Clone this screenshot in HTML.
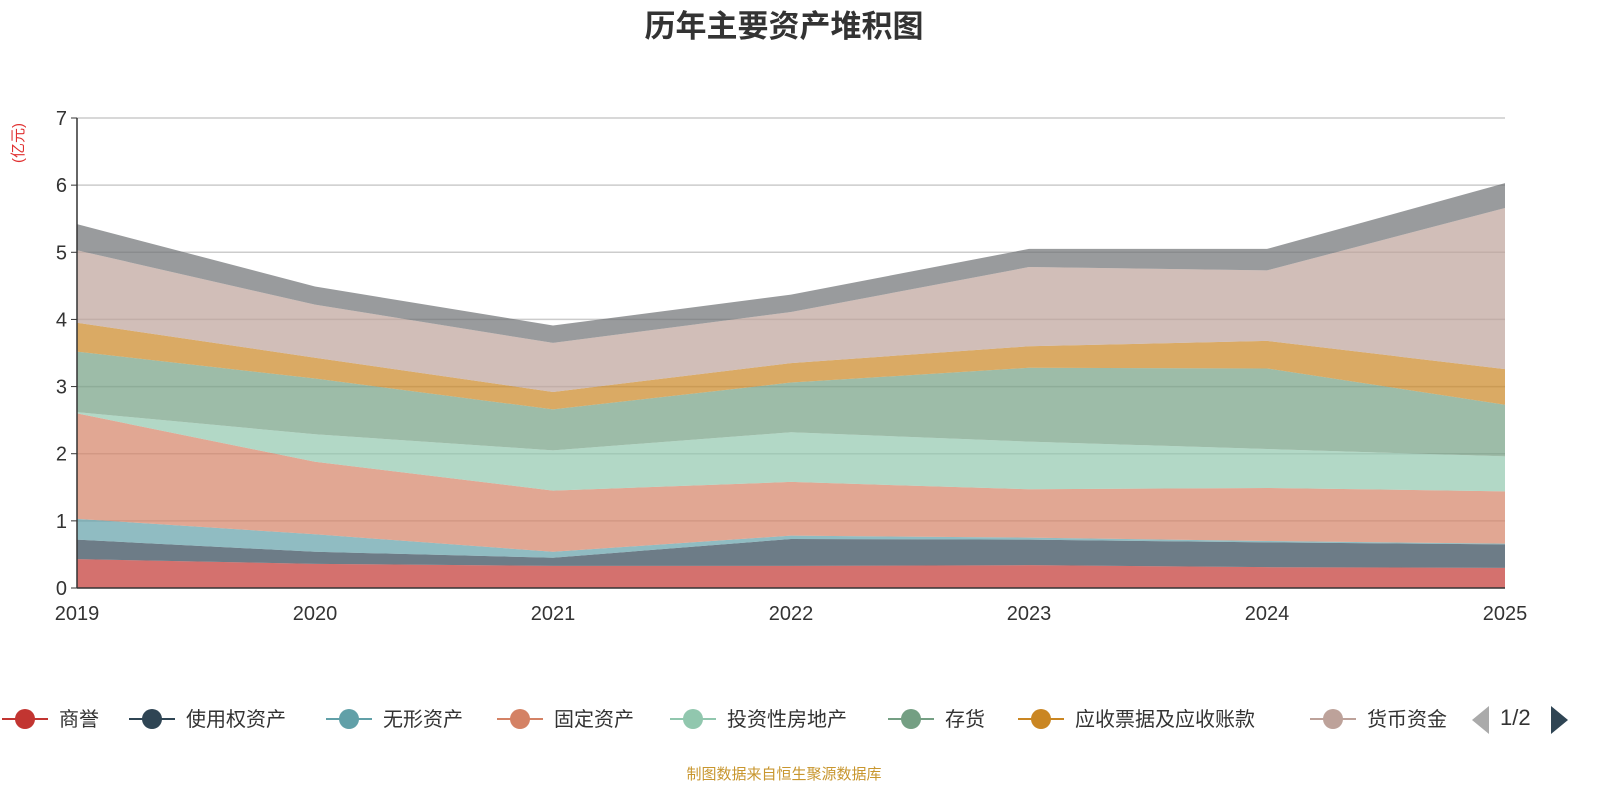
<!DOCTYPE html>
<html><head><meta charset="utf-8"><style>
body{margin:0;width:1600px;height:800px;background:#fff;overflow:hidden;font-family:"Liberation Sans","Noto Sans CJK SC",sans-serif}
</style></head><body>
<svg id="c" width="1600" height="800" xmlns="http://www.w3.org/2000/svg" style="font-family:'Liberation Sans','Noto Sans CJK SC',sans-serif">
<text x="784" y="37" text-anchor="middle" font-size="31" font-weight="bold" fill="#333">历年主要资产堆积图</text>
<text transform="translate(23,143) rotate(-90)" text-anchor="middle" font-size="15" fill="#e03030">(亿元)</text>
<g id="grid"></g><g id="areas"></g><g id="axes"></g><g id="legend"></g>
<text x="784" y="779" text-anchor="middle" font-size="15" fill="#c8962e">制图数据来自恒生聚源数据库</text>
</svg>
<script>
const years=['2019','2020','2021','2022','2023','2024','2025'];
const yTicks=[0,1,2,3,4,5,6,7];
const seriesNames=['商誉','使用权资产','无形资产','固定资产','投资性房地产','存货','应收票据及应收账款','货币资金','其他'];
const goodwill=[0.43,0.36,0.33,0.33,0.34,0.31,0.30];
const rightOfUse=[0.29,0.18,0.12,0.40,0.38,0.37,0.35];
const intangible=[0.31,0.26,0.09,0.05,0.03,0.02,0.01];
const fixedAssets=[1.57,1.08,0.91,0.80,0.72,0.79,0.78];
const investProperty=[0.02,0.41,0.60,0.74,0.71,0.58,0.52];
const inventory=[0.90,0.83,0.61,0.74,1.10,1.20,0.77];
const receivables=[0.43,0.31,0.26,0.29,0.32,0.41,0.53];
const cash=[1.08,0.79,0.73,0.76,1.18,1.05,2.40];
const others=[0.39,0.27,0.26,0.26,0.27,0.32,0.37];
const seriesData=[goodwill,rightOfUse,intangible,fixedAssets,investProperty,inventory,receivables,cash,others];
const colors=['#c23531','#2f4554','#61a0a8','#d48265','#91c7ae','#749f83','#ca8622','#bda29a','#6e7074'];
const NS='http://www.w3.org/2000/svg';
const x0=77,x1=1505,y0=588,yTop=118,ymax=7;
const X=i=>x0+(x1-x0)*i/(years.length-1);
const Y=v=>y0-(y0-yTop)*v/ymax;
function mk(t,a,p){const e=document.createElementNS(NS,t);for(const k in a)e.setAttribute(k,a[k]);p.appendChild(e);return e;}
const grid=document.getElementById('grid'),axes=document.getElementById('axes'),areas=document.getElementById('areas'),legend=document.getElementById('legend');
yTicks.forEach(v=>{
 if(v>0){const l=mk('line',{x1:x0,x2:x1,y1:Y(v),y2:Y(v),stroke:'#ccc','stroke-width':1.5},grid);
 
 }
 const t=mk('text',{x:x0-10,y:Y(v)+7,'text-anchor':'end','font-size':20,fill:'#333'},axes);t.textContent=v;
 
 
 const tk=mk('line',{x1:x0-6,x2:x0,y1:Y(v),y2:Y(v),stroke:'#333'},axes);
 
 
});
let base=years.map(()=>0);
seriesData.forEach((s,k)=>{
 const top=base.map((b,i)=>b+s[i]);
 let d='M'+top.map((v,i)=>X(i)+','+Y(v)).join('L');
 for(let i=years.length-1;i>=0;i--)d+='L'+X(i)+','+Y(base[i]);
 const p=mk('path',{d:d+'Z',fill:colors[k],'fill-opacity':0.7},areas);
 
 
 base=top;
});
const ya=mk('line',{x1:x0,x2:x0,y1:yTop,y2:y0,stroke:'#333','stroke-width':1.5},axes);


const xa=mk('line',{x1:x0,x2:x1,y1:y0,y2:y0,stroke:'#333','stroke-width':1.5},axes);


years.forEach((y,i)=>{
 const t=mk('text',{x:X(i),y:620,'text-anchor':'middle','font-size':20,fill:'#333'},axes);t.textContent=y;
 
 
});
const legX=[2,129,326,497,670,888,1018,1310];
for(let k=0;k<8;k++){
 const g=mk('g',{},legend);
 
 
 mk('line',{x1:legX[k],x2:legX[k]+46,y1:719,y2:719,stroke:colors[k],'stroke-width':2},g);
 mk('circle',{cx:legX[k]+23,cy:719,r:10,fill:colors[k]},g);
 const t=mk('text',{x:legX[k]+57,y:726,'font-size':20,fill:'#333'},g);t.textContent=seriesNames[k];
}
</script>
<div style="position:absolute;left:1449px;top:700px;width:22px;height:40px;background:#fff"></div>
<div style="position:absolute;left:1472px;top:706px;width:0;height:0;border-top:14px solid transparent;border-bottom:14px solid transparent;border-right:17px solid #aaa"></div>
<div style="position:absolute;left:1500px;top:705px;font-size:22px;color:#333">1/2</div>
<div style="position:absolute;left:1551px;top:706px;width:0;height:0;border-top:14px solid transparent;border-bottom:14px solid transparent;border-left:17px solid #2f4554"></div>
</body></html>
